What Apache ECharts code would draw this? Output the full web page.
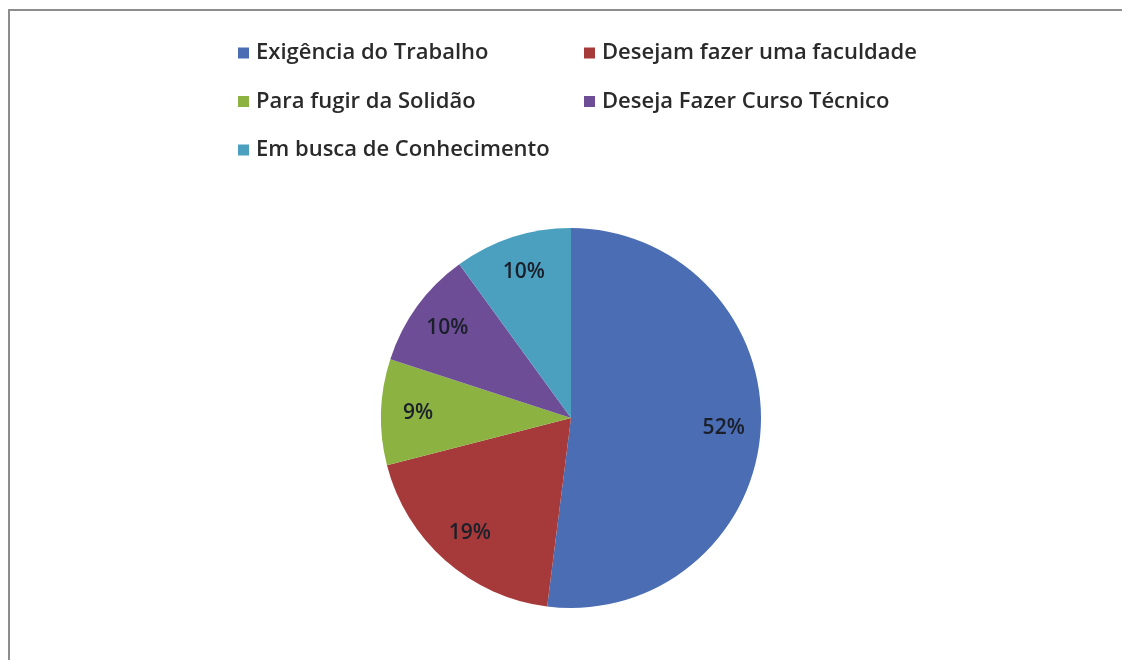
<!DOCTYPE html>
<html>
<head>
<meta charset="utf-8">
<script src="https://cdn.jsdelivr.net/npm/echarts@6/dist/echarts.min.js"></script>
<style>
  html, body { margin: 0; padding: 0; background: #fff; overflow: hidden; }
  #frame { position: absolute; left: 8px; top: 9px; width: 1200px; height: 700px; border: 2px solid #8d8d8d; }
  #chart { position: absolute; left: 0; top: 0; width: 1122px; height: 660px; }
</style>
</head>
<body>
<div id="frame"></div>
<div id="chart"></div>
<script>
// categorias e valores (%)
const categories = [
  'Exigência do Trabalho',
  'Desejam fazer uma faculdade',
  'Para fugir da Solidão',
  'Deseja Fazer Curso Técnico',
  'Em busca de Conhecimento'
]
const values = [52, 19, 9, 10, 10]
const colors = ['#4a6db3', '#a63a3a', '#8cb342', '#6c4d96', '#4ba0bf']

const FONT = 'Open Sans'
const pieData = categories.map((name, i) => ({ name, value: values[i] }))

const chart = echarts.init(document.getElementById('chart'), null, { renderer: 'canvas' })

const legendBase = {
  orient: 'vertical',
  top: 37,
  icon: 'rect',
  itemWidth: 11,
  itemHeight: 11,
  itemGap: 26.5,
  selectedMode: false,
  textStyle: {
    fontFamily: FONT,
    fontSize: 22,
    fontWeight: 600,
    lineHeight: 22,
    color: '#2a2a2a',
    padding: [0, 0, 0, 2]
  }
}

const option = {
  animation: false,
  color: colors,
  legend: [
    { ...legendBase, left: 233, data: [categories[0], categories[2], categories[4]] },
    { ...legendBase, left: 579, data: [categories[1], categories[3]] }
  ],
  series: [
    {
      // a pizza
      type: 'pie',
      center: [571, 418],
      radius: 190,
      startAngle: 90,
      clockwise: true,
      label: { show: false },
      labelLine: { show: false },
      emphasis: { disabled: true },
      itemStyle: { borderWidth: 0 },
      data: pieData
    },
    {
      // só os rótulos, num anel transparente por cima
      type: 'pie',
      center: [571, 418],
      radius: [110, 190],
      startAngle: 90,
      clockwise: true,
      silent: true,
      legendHoverLink: false,
      itemStyle: { color: 'rgba(0,0,0,0)', borderWidth: 0 },
      emphasis: { disabled: true },
      label: {
        show: true,
        position: 'inside',
        formatter: p => p.value + '%',
        fontFamily: FONT,
        fontSize: 21,
        fontWeight: 600,
        color: '#1a1f2a'
      },
      labelLine: { show: false },
      data: pieData
    }
  ]
}

chart.setOption(option)
</script>
</body>
</html>
